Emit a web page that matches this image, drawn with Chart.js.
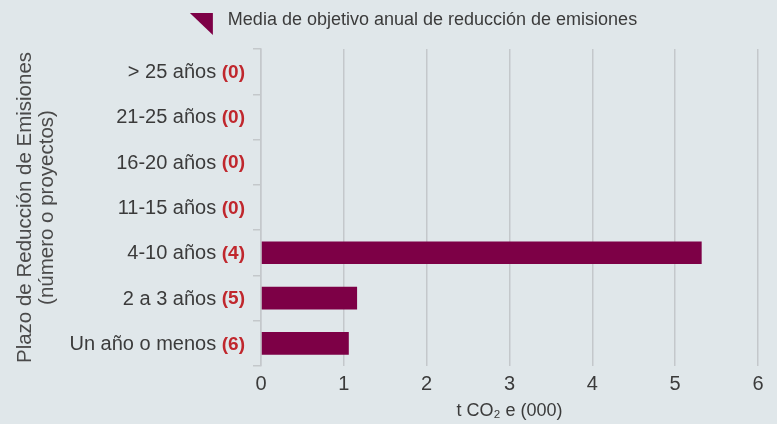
<!DOCTYPE html>
<html>
<head>
<meta charset="utf-8">
<script src="https://cdn.jsdelivr.net/npm/chart.js@4"></script>
<style>
  body { margin: 0; background: #e0e7ea; }
  #wrap { width: 777px; height: 424px; }
</style>
</head>
<body>
<div id="wrap"><canvas id="grafico"></canvas></div>
<script>
// datos
const categorias = ['> 25 años', '21-25 años', '16-20 años', '11-15 años', '4-10 años', '2 a 3 años', 'Un año o menos'];
const proyectos = [0, 0, 0, 0, 4, 5, 6];
const mediaObjetivo = [0, 0, 0, 0, 5.32, 1.16, 1.06];
const ticksX = [0, 1, 2, 3, 4, 5, 6];
const nombreSerie = 'Media de objetivo anual de reducción de emisiones';

const colorBarra = '#7d0046';
const colorRejilla = '#c4c8cb';
const colorTexto = '#3b3b3b';
const colorNumero = '#c0272d';
const fuente = '"Liberation Sans", Arial, sans-serif';

// etiquetas del eje y con el numero de proyectos en rojo, y leyenda
const etiquetasPlugin = {
  id: 'etiquetas',
  afterDraw(chart) {
    const ctx = chart.ctx;
    const escalaY = chart.scales.y;
    ctx.save();
    ctx.textBaseline = 'middle';
    for (let i = 0; i < categorias.length; i++) {
      let y = escalaY.getPixelForValue(i) + 1;
      let derecha = escalaY.right - 16;
      let numero = '(' + proyectos[i] + ')';
      ctx.font = 'bold 19px ' + fuente;
      let anchoNum = ctx.measureText(numero).width;
      ctx.fillStyle = colorNumero;
      ctx.textAlign = 'right';
      ctx.fillText(numero, derecha, y);
      ctx.font = '20px ' + fuente;
      ctx.fillStyle = colorTexto;
      ctx.fillText(categorias[i] + ' ', derecha - anchoNum, y);
    }

    // leyenda
    ctx.font = '18px ' + fuente;
    let anchoTexto = ctx.measureText(nombreSerie).width;
    let x0 = chart.width / 2 + 25 - (38 + anchoTexto) / 2;
    ctx.fillStyle = colorBarra;
    ctx.beginPath();
    ctx.moveTo(x0, 13);
    ctx.lineTo(x0 + 23, 13);
    ctx.lineTo(x0 + 23, 35);
    ctx.closePath();
    ctx.fill();
    ctx.fillStyle = colorTexto;
    ctx.textAlign = 'left';
    ctx.fillText(nombreSerie, x0 + 38, 20);
    ctx.restore();
  }
};

const ctx = document.getElementById('grafico').getContext('2d');
new Chart(ctx, {
  type: 'bar',
  data: {
    labels: categorias,
    datasets: [{
      label: nombreSerie,
      data: mediaObjetivo,
      backgroundColor: colorBarra,
      barPercentage: 0.5,
      categoryPercentage: 1
    }]
  },
  options: {
    indexAxis: 'y',
    responsive: true,
    maintainAspectRatio: false,
    animation: false,
    layout: { padding: { top: 49, right: 19, left: 0, bottom: 2 } },
    plugins: {
      legend: { display: false },
      tooltip: { enabled: false }
    },
    scales: {
      x: {
        min: 0,
        max: 6,
        afterBuildTicks: (escala) => {
          escala.ticks = ticksX.map(v => ({ value: v }));
        },
        grid: { color: colorRejilla, lineWidth: 1.5, drawTicks: false },
        border: { display: false },
        ticks: { color: colorTexto, font: { family: fuente, size: 20 }, padding: 6 },
        title: {
          display: true,
          text: 't CO₂ e (000)',
          color: colorTexto,
          font: { family: fuente, size: 18 },
          padding: { top: 4, bottom: 0 }
        },
        afterFit: (escala) => { escala.height = 56; }
      },
      y: {
        grid: { offset: true, drawOnChartArea: false, color: colorRejilla, lineWidth: 1.5, tickLength: 8 },
        border: { color: colorRejilla, width: 1.5 },
        ticks: { display: false },
        title: {
          display: true,
          text: ['Plazo de Reducción de Emisiones', '(número o proyectos)'],
          color: '#4a4a4a',
          font: { family: fuente, size: 20.5, lineHeight: 1.05 },
          padding: { top: 15, bottom: 0 }
        },
        afterFit: (escala) => { escala.width = 261; }
      }
    }
  },
  plugins: [etiquetasPlugin]
});
</script>
</body>
</html>
